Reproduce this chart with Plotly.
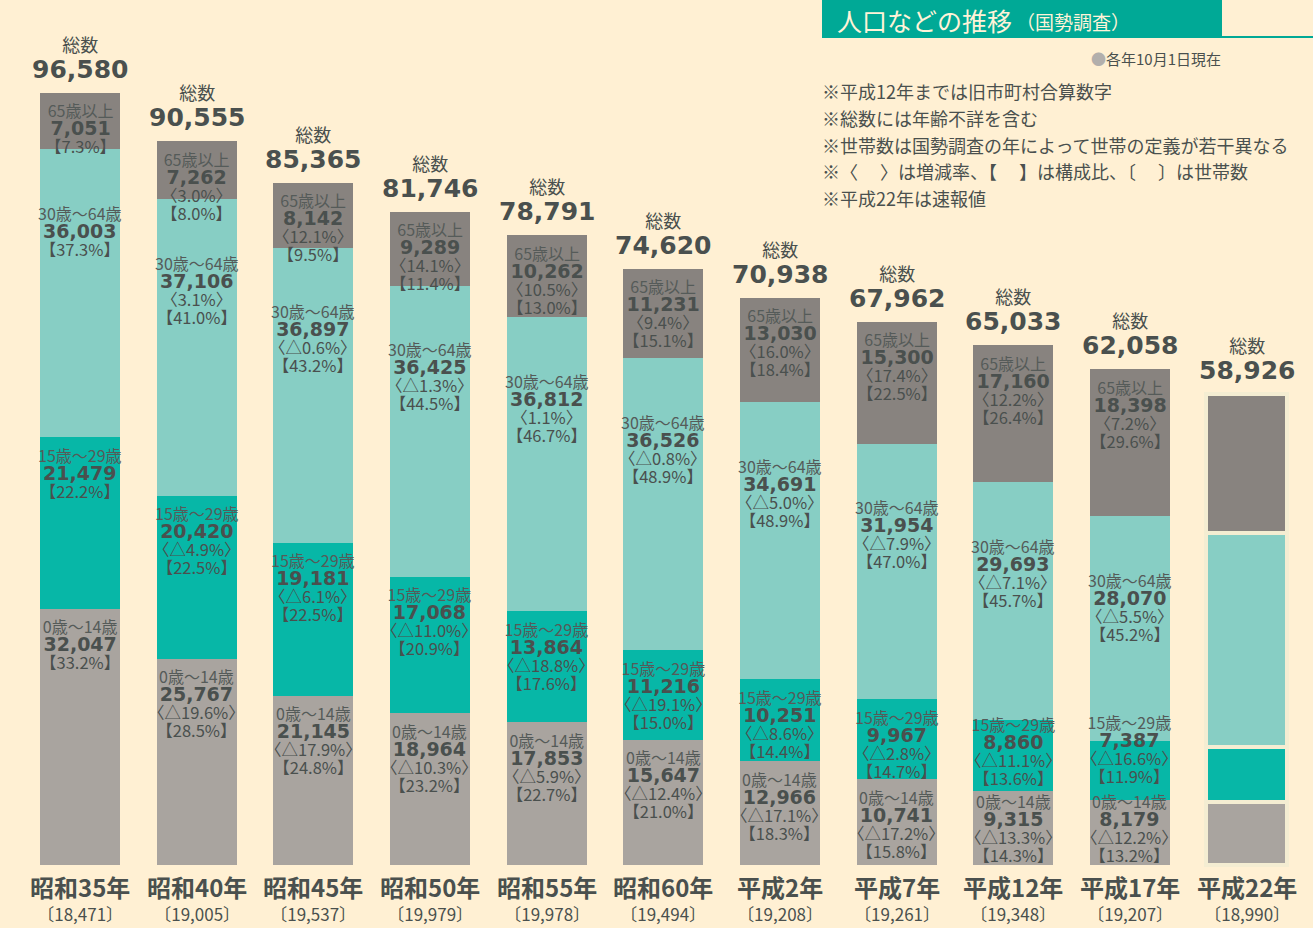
import plotly.graph_objects as go

# ---------------- data ----------------
years = ["昭和35年", "昭和40年", "昭和45年", "昭和50年", "昭和55年", "昭和60年",
         "平成2年", "平成7年", "平成12年", "平成17年", "平成22年"]
households = [18471, 19005, 19537, 19979, 19978, 19494, 19208, 19261, 19348, 19207, 18990]
totals = [96580, 90555, 85365, 81746, 78791, 74620, 70938, 67962, 65033, 62058, 58926]

age_0_14 = [32047, 25767, 21145, 18964, 17853, 15647, 12966, 10741, 9315, 8179, 7900]
age_15_29 = [21479, 20420, 19181, 17068, 13864, 11216, 10251, 9967, 8860, 7387, 6900]
age_30_64 = [36003, 37106, 36897, 36425, 36812, 36526, 34691, 31954, 29693, 28070, 26700]
age_65 = [7051, 7262, 8142, 9289, 10262, 11231, 13030, 15300, 17160, 18398, 17400]

growth_0_14 = [None, "△19.6", "△17.9", "△10.3", "△5.9", "△12.4", "△17.1", "△17.2", "△13.3", "△12.2", None]
growth_15_29 = [None, "△4.9", "△6.1", "△11.0", "△18.8", "△19.1", "△8.6", "△2.8", "△11.1", "△16.6", None]
growth_30_64 = [None, "3.1", "△0.6", "△1.3", "1.1", "△0.8", "△5.0", "△7.9", "△7.1", "△5.5", None]
growth_65 = [None, "3.0", "12.1", "14.1", "10.5", "9.4", "16.0", "17.4", "12.2", "7.2", None]

share_0_14 = [33.2, 28.5, 24.8, 23.2, 22.7, 21.0, 18.3, 15.8, 14.3, 13.2, None]
share_15_29 = [22.2, 22.5, 22.5, 20.9, 17.6, 15.0, 14.4, 14.7, 13.6, 11.9, None]
share_30_64 = [37.3, 41.0, 43.2, 44.5, 46.7, 48.9, 48.9, 47.0, 45.7, 45.2, None]
share_65 = [7.3, 8.0, 9.5, 11.4, 13.0, 15.1, 18.4, 22.5, 26.4, 29.6, None]

group_names = ["0歳〜14歳", "15歳〜29歳", "30歳〜64歳", "65歳以上"]

notes = [
    "※平成12年までは旧市町村合算数字",
    "※総数には年齢不詳を含む",
    "※世帯数は国勢調査の年によって世帯の定義が若干異なる",
    "※〈　 〉は増減率、【　 】は構成比、〔　 〕は世帯数",
    "※平成22年は速報値",
]

# ---------------- style ----------------
W, H = 1313, 928
BG = "#FFF0D3"
TXT = "#4A504E"
COLORS = ["#A9A49F", "#07B7A7", "#87CEC4", "#88837F"]
JP = "Noto Sans CJK JP"
NUM = "DejaVu Sans"

n = len(years)
x = list(range(n))
series = [age_0_14, age_15_29, age_30_64, age_65]
growths = [growth_0_14, growth_15_29, growth_30_64, growth_65]
shares = [share_0_14, share_15_29, share_30_64, share_65]

fig = go.Figure()
sep_w = [0] * (n - 1) + [4]
for k, vals in enumerate(series):
    fig.add_trace(go.Bar(
        x=x, y=vals, name=group_names[k], width=0.686,
        marker=dict(color=COLORS[k], line=dict(color="#F4EDD2", width=sep_w)),
        hoverinfo="skip",
    ))


def sp(t, size, fam=JP, color=None, bold=False):
    st = f"font-size:{size}px;font-family:{fam}"
    if color:
        st += f";color:{color}"
    s = f"<span style='{st}'>{t}</span>"
    return f"<b>{s}</b>" if bold else s


ann = []
# first-line centre offsets (px below segment top)
default_off = [17, 17, 63, 17]
override = {(8, 1): 4, (8, 0): 10, (9, 1): -19, (9, 0): 1}
C_SEG = 13.6  # box top -> first-line centre
for i in range(n):
    base = 0
    for k in range(4):
        top = base + series[k][i]
        base = top
        if shares[k][i] is None:
            continue
        off = override.get((i, k), default_off[k])
        lines = [sp(group_names[k], 16, color="#555B59"),
                 sp(f"{series[k][i]:,}", 19, fam=NUM, bold=True)]
        if growths[k][i] is not None:
            lines.append(sp(f"〈{growths[k][i]}%〉", 16.5))
        lines.append(sp(f"【{shares[k][i]:.1f}%】", 16.5))
        ann.append(dict(x=i, y=top, xref="x", yref="y", text="<br>".join(lines),
                        showarrow=False, yanchor="top", xanchor="center", align="center",
                        yshift=-(off - C_SEG),
                        font=dict(family=JP, size=13.9, color=TXT)))
    # totals
    ann.append(dict(x=i, y=totals[i], xref="x", yref="y",
                    text=sp("総数", 18) + "<br>" + sp(f"{totals[i]:,}", 25, fam=NUM, bold=True),
                    showarrow=False, yanchor="bottom", yshift=7, align="center",
                    font=dict(family=JP, size=20, color=TXT)))
    # x labels
    ann.append(dict(x=i, y=1 - 867 / H, xref="x", yref="paper",
                    text=sp(years[i], 24, bold=True) + "<br>" + sp(f"〔{households[i]:,}〕", 17),
                    showarrow=False, yanchor="top", align="center",
                    font=dict(family=JP, size=18.8, color=TXT)))

# title
ann.append(dict(x=835 / W, y=1 - 20 / H, xref="paper", yref="paper", text="人口などの推移",
                showarrow=False, xanchor="left", yanchor="middle",
                font=dict(family=JP, size=25, color="#FFF3D8")))
ann.append(dict(x=1014 / W, y=1 - 21 / H, xref="paper", yref="paper", text="（国勢調査）",
                showarrow=False, xanchor="left", yanchor="middle",
                font=dict(family=JP, size=19, color="#FFF3D8")))
ann.append(dict(x=1223 / W, y=1 - 58 / H, xref="paper", yref="paper",
                text="<span style='color:#B2AFAC'>●</span>各年10月1日現在",
                showarrow=False, xanchor="right", yanchor="middle",
                font=dict(family=JP, size=15, color=TXT)))
for j, t in enumerate(notes):
    ann.append(dict(x=820 / W, y=1 - (91 + j * 26.8) / H, xref="paper", yref="paper",
                    text=t, showarrow=False, xanchor="left", yanchor="middle",
                    font=dict(family=JP, size=18, color=TXT)))

shapes = [
    dict(type="rect", xref="paper", yref="paper", x0=822 / W, x1=1222 / W,
         y0=1 - 38 / H, y1=1, fillcolor="#00A996", line=dict(width=0), layer="below"),
    dict(type="line", xref="paper", yref="paper", x0=1222 / W, x1=1,
         y0=1 - 37 / H, y1=1 - 37 / H, line=dict(color="#00A996", width=2)),
]

px_per = 125.1
fig.update_layout(
    width=W, height=H, barmode="stack", showlegend=False,
    paper_bgcolor=BG, plot_bgcolor=BG,
    margin=dict(l=0, r=0, t=0, b=0),
    xaxis=dict(range=[-80 / 116.65, -80 / 116.65 + W / 116.65], visible=False),
    yaxis=dict(range=[-(H - 865) * px_per, 865 * px_per], visible=False),
    annotations=ann, shapes=shapes,
)
fig.write_html("out.html", config={"displayModeBar": False})
